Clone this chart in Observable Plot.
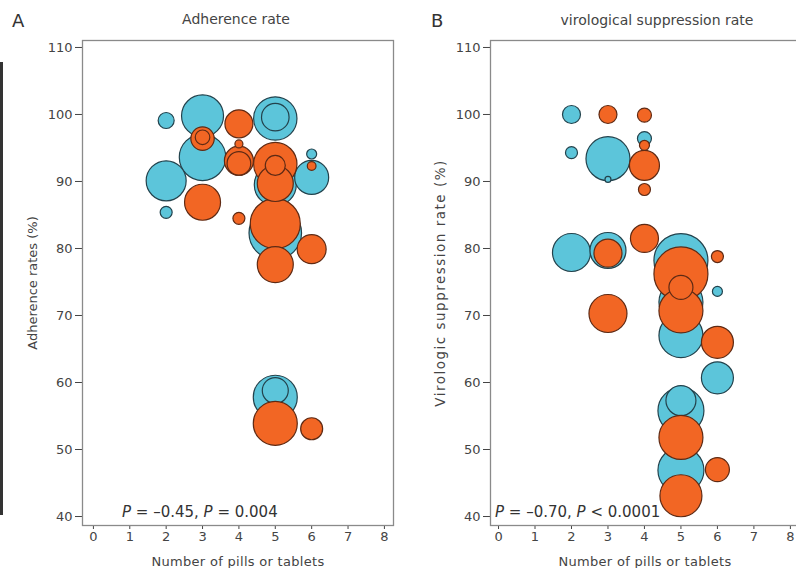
<!DOCTYPE html>
<html>
<head>
<meta charset="utf-8">
<script src="https://cdn.jsdelivr.net/npm/d3@7"></script>
<script src="https://cdn.jsdelivr.net/npm/@observablehq/plot@0.6"></script>
<style>
  body { margin: 0; background: #fff; }
  #wrap { position: relative; width: 796px; height: 568px; overflow: hidden; background: #fff;
          font-family: "DejaVu Sans", sans-serif; color: #333; }
  #pa, #pb { position: absolute; top: 0; }
  #pa { left: 0; width: 400px; }
  #pb { left: 400px; width: 410px; }
  #pa svg, #pb svg { max-width: none; }
  .t { position: absolute; white-space: nowrap; line-height: 1; }
  .c { transform: translate(-50%, -50%); }
  .m { transform: translateY(-50%); }
  .letter { font-size: 18px; color: #333; }
  .title { font-size: 14px; color: #444; }
  .note { font-size: 15px; color: #333; }
  .note i { font-style: italic; }
  #edge { position: absolute; left: 0; top: 62px; width: 3px; height: 453px; background: #333; }
  g[aria-label="x-axis label"] text { letter-spacing: 0.3px; }
  #pb g[aria-label="y-axis label"] text { letter-spacing: 1.5px; font-size: 13.5px; }
</style>
</head>
<body>
<div id="wrap">
  <div id="pa"></div>
  <div id="pb"></div>
  <div id="edge"></div>
</div>
<script>
// ---- data ----
const xTicks = [0, 1, 2, 3, 4, 5, 6, 7, 8];
const yTicks = [40, 50, 60, 70, 80, 90, 100, 110];
const seriesColors = ["#5cc5da", "#f26624"];
const seriesStrokes = ["#23424c", "#5e2a14"];

// Panel A: adherence rate (pills per day, rate %, study size)
const adhBluePills = [2, 3, 5, 5, 3, 6, 6, 2, 2, 5, 5, 5, 5];
const adhBlueRate  = [99.1, 99.8, 99.4, 99.6, 93.6, 94.1, 90.6, 90.1, 85.4, 89.5, 82.3, 57.8, 58.8];
const adhBlueN     = [64, 441, 470, 190, 540, 25, 289, 400, 36, 441, 690, 484, 169];

const adhOrangePills = [4, 3, 3, 4, 4, 4, 5, 5, 6, 3, 4, 5, 5, 5, 6, 5, 6];
const adhOrangeRate  = [98.6, 96.4, 96.6, 95.6, 93.1, 92.7, 92.6, 92.4, 92.3, 86.9, 84.5, 89.7, 83.7, 77.6, 79.9, 53.9, 53.1];
const adhOrangeN     = [196, 137, 53, 16, 210, 140, 470, 100, 19, 324, 36, 324, 625, 324, 210, 484, 121];

// Panel B: virological suppression rate
const virBluePills = [2, 2, 3, 3, 4, 2, 3, 5, 6, 5, 5, 6, 5, 5, 5];
const virBlueRate  = [100, 94.3, 93.4, 90.3, 96.4, 79.4, 79.7, 78.2, 73.6, 72, 67.0, 60.7, 57.3, 55.8, 46.9];
const virBlueN     = [81, 36, 484, 9, 49, 361, 324, 729, 25, 484, 484, 256, 225, 529, 529];

const virOrangePills = [3, 4, 4, 4, 4, 3, 4, 6, 5, 5, 5, 3, 6, 5, 6, 5];
const virOrangeRate  = [100, 99.9, 95.4, 92.4, 88.8, 79.3, 81.5, 78.8, 76.2, 74.2, 70.7, 70.3, 66, 51.8, 47, 43.1];
const virOrangeN     = [81, 49, 25, 225, 36, 196, 196, 36, 729, 144, 484, 361, 256, 484, 144, 441];

const rows = (p, v, n) => p.map((d, i) => ({pills: d, rate: v[i], n: n[i]}));

function panel({blue, orange, width, marginLeft, marginRight, xDomain, yLabel}) {
  return Plot.plot({
    width, height: 568,
    marginTop: 40, marginBottom: 43, marginLeft, marginRight,
    x: {domain: xDomain},
    y: {domain: [38.66, 111.04]},
    r: {type: "sqrt", domain: [0, 900], range: [0, 30]},
    style: {fontFamily: "DejaVu Sans, sans-serif", fontSize: "13px", color: "#444", background: "transparent", overflow: "visible", maxWidth: "none"},
    marks: [
      Plot.axisX({ticks: xTicks, tickSize: 4, tickPadding: 2, label: "Number of pills or tablets",
                  labelAnchor: "center", labelArrow: "none", labelOffset: 40}),
      Plot.axisY({ticks: yTicks, tickSize: 7, tickPadding: 3, label: yLabel,
                  labelAnchor: "center", labelArrow: "none", labelOffset: 55}),
      Plot.dot(blue, {x: "pills", y: "rate", r: "n", fill: seriesColors[0], stroke: seriesStrokes[0], strokeWidth: 1.2}),
      Plot.dot(orange, {x: "pills", y: "rate", r: "n", fill: seriesColors[1], stroke: seriesStrokes[1], strokeWidth: 1.2}),
      Plot.frame({stroke: "#8a8a8a", strokeWidth: 1.3})
    ]
  });
}

document.getElementById("pa").append(panel({
  blue: rows(adhBluePills, adhBlueRate, adhBlueN),
  orange: rows(adhOrangePills, adhOrangeRate, adhOrangeN),
  width: 400, marginLeft: 82, marginRight: 7, xDomain: [-0.3, 8.25],
  yLabel: "Adherence rates (%)"
}));
document.getElementById("pb").append(panel({
  blue: rows(virBluePills, virBlueRate, virBlueN),
  orange: rows(virOrangePills, virOrangeRate, virOrangeN),
  width: 410, marginLeft: 90, marginRight: 11, xDomain: [-0.22, 8.25],
  yLabel: "Virologic suppression rate (%)"
}));

// ---- texts ----
const wrap = document.getElementById("wrap");
function addText(html, cls, x, y) {
  const d = document.createElement("div");
  d.className = "t " + cls;
  d.style.left = x + "px";
  d.style.top = y + "px";
  d.innerHTML = html;
  wrap.append(d);
}
addText("A", "letter m", 12, 21);
addText("Adherence rate", "title c", 236, 19);
addText("B", "letter m", 431, 21);
addText("virological suppression rate", "title c", 657, 20);
addText("<i>P</i> = \u20130.45, <i>P</i> = 0.004", "note m", 122, 512);
addText("<i>P</i> = \u20130.70, <i>P</i> &lt; 0.0001", "note m", 495, 512);
</script>
</body>
</html>
